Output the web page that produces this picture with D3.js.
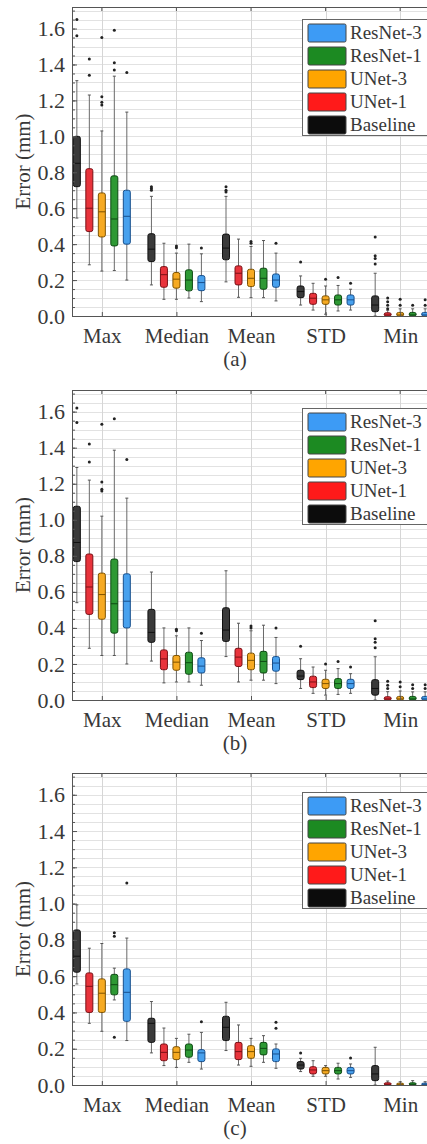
<!DOCTYPE html>
<html>
<head>
<meta charset="utf-8">
<script src="https://cdn.jsdelivr.net/npm/d3@7"></script>
<style>
  body { margin: 0; background: #fff; }
  svg { display: block; }
  svg text { font-family: "Liberation Serif", "Times New Roman", Tinos, "DejaVu Serif", serif !important; fill: #383838; }
</style>
</head>
<body>
<svg id="fig" width="427" height="1144"></svg>
<script>
const categories = ["Max", "Median", "Mean", "STD", "Min"];
const series = ["Baseline", "UNet-1", "UNet-3", "ResNet-1", "ResNet-3"];
const legendOrder = ["ResNet-3", "ResNet-1", "UNet-3", "UNet-1", "Baseline"];
const fills = ["#3a3a3a", "#e8333b", "#f6aa22", "#2e9934", "#48a1ee"];
const strokes = ["#111111", "#7a1015", "#7d5200", "#0e4a13", "#184f8c"];
const swatches = ["#0c0c0c", "#ff1a1a", "#ffa500", "#1c8a22", "#3d9bf5"];
const yTicks = [0, 0.2, 0.4, 0.6, 0.8, 1.0, 1.2, 1.4, 1.6];
const captions = ["(a)", "(b)", "(c)"];

// [category, series, lower whisker, q1, median, q3, upper whisker, outliers]
const statsA = [
  ["Max", "Baseline", 0.545, 0.72, 0.85, 1.0, 1.31, [1.56, 1.65]],
  ["Max", "UNet-1", 0.285, 0.47, 0.60, 0.82, 1.23, [1.34, 1.43]],
  ["Max", "UNet-3", 0.25, 0.44, 0.58, 0.685, 1.03, [1.175, 1.19, 1.22, 1.55]],
  ["Max", "ResNet-1", 0.253, 0.39, 0.54, 0.78, 1.335, [1.37, 1.41, 1.59]],
  ["Max", "ResNet-3", 0.20, 0.40, 0.555, 0.70, 1.135, [1.355]],
  ["Median", "Baseline", 0.173, 0.303, 0.372, 0.458, 0.666, [0.70, 0.71, 0.72]],
  ["Median", "UNet-1", 0.093, 0.16, 0.23, 0.275, 0.405, []],
  ["Median", "UNet-3", 0.093, 0.155, 0.205, 0.242, 0.35, [0.38, 0.39]],
  ["Median", "ResNet-1", 0.10, 0.14, 0.20, 0.257, 0.40, []],
  ["Median", "ResNet-3", 0.08, 0.141, 0.186, 0.225, 0.346, [0.378]],
  ["Mean", "Baseline", 0.19, 0.313, 0.378, 0.456, 0.666, [0.69, 0.70, 0.72]],
  ["Mean", "UNet-1", 0.104, 0.173, 0.238, 0.279, 0.428, []],
  ["Mean", "UNet-3", 0.102, 0.164, 0.21, 0.26, 0.387, [0.405, 0.415]],
  ["Mean", "ResNet-1", 0.102, 0.149, 0.21, 0.266, 0.42, []],
  ["Mean", "ResNet-3", 0.084, 0.16, 0.20, 0.234, 0.35, [0.405]],
  ["STD", "Baseline", 0.061, 0.102, 0.136, 0.167, 0.223, [0.30]],
  ["STD", "UNet-1", 0.033, 0.065, 0.099, 0.126, 0.182, []],
  ["STD", "UNet-3", 0.01, 0.065, 0.09, 0.112, 0.167, [0.205]],
  ["STD", "ResNet-1", 0.028, 0.061, 0.09, 0.117, 0.17, [0.214]],
  ["STD", "ResNet-3", 0.033, 0.061, 0.09, 0.117, 0.149, [0.182]],
  ["Min", "Baseline", 0.0, 0.024, 0.061, 0.112, 0.238, [0.29, 0.32, 0.335, 0.44]],
  ["Min", "UNet-1", 0.0, 0.0, 0.006, 0.018, 0.032, [0.04, 0.06, 0.08, 0.10]],
  ["Min", "UNet-3", 0.0, 0.0, 0.006, 0.02, 0.04, [0.06, 0.093]],
  ["Min", "ResNet-1", 0.0, 0.0, 0.006, 0.02, 0.04, [0.06]],
  ["Min", "ResNet-3", 0.0, 0.0, 0.006, 0.02, 0.04, [0.06, 0.09]]
];

const statsB = [
  ["Max", "Baseline", 0.54, 0.768, 0.874, 1.075, 1.29, [1.54, 1.62]],
  ["Max", "UNet-1", 0.287, 0.475, 0.627, 0.81, 1.22, [1.32, 1.42]],
  ["Max", "UNet-3", 0.247, 0.448, 0.585, 0.704, 1.02, [1.16, 1.17, 1.21, 1.53]],
  ["Max", "ResNet-1", 0.247, 0.371, 0.534, 0.782, 1.386, [1.56]],
  ["Max", "ResNet-3", 0.20, 0.40, 0.548, 0.70, 1.12, [1.335]],
  ["Median", "Baseline", 0.216, 0.32, 0.375, 0.503, 0.71, []],
  ["Median", "UNet-1", 0.095, 0.168, 0.228, 0.278, 0.40, []],
  ["Median", "UNet-3", 0.10, 0.165, 0.21, 0.247, 0.356, [0.384, 0.393]],
  ["Median", "ResNet-1", 0.10, 0.143, 0.207, 0.265, 0.40, []],
  ["Median", "ResNet-3", 0.082, 0.15, 0.188, 0.234, 0.33, [0.37]],
  ["Mean", "Baseline", 0.241, 0.325, 0.388, 0.512, 0.717, []],
  ["Mean", "UNet-1", 0.10, 0.186, 0.238, 0.287, 0.426, []],
  ["Mean", "UNet-3", 0.11, 0.168, 0.22, 0.26, 0.384, [0.40, 0.41]],
  ["Mean", "ResNet-1", 0.11, 0.15, 0.214, 0.27, 0.415, []],
  ["Mean", "ResNet-3", 0.091, 0.16, 0.205, 0.241, 0.347, [0.40]],
  ["STD", "Baseline", 0.064, 0.113, 0.133, 0.165, 0.229, [0.298]],
  ["STD", "UNet-1", 0.037, 0.069, 0.10, 0.132, 0.183, []],
  ["STD", "UNet-3", 0.027, 0.064, 0.091, 0.115, 0.165, [0.20]],
  ["STD", "ResNet-1", 0.031, 0.064, 0.091, 0.119, 0.174, [0.214]],
  ["STD", "ResNet-3", 0.037, 0.064, 0.091, 0.115, 0.146, [0.183]],
  ["Min", "Baseline", 0.0, 0.027, 0.064, 0.113, 0.24, [0.29, 0.32, 0.34, 0.44]],
  ["Min", "UNet-1", 0.0, 0.0, 0.006, 0.018, 0.046, [0.064, 0.082, 0.104]],
  ["Min", "UNet-3", 0.0, 0.0, 0.006, 0.02, 0.05, [0.073, 0.10]],
  ["Min", "ResNet-1", 0.0, 0.0, 0.006, 0.02, 0.045, [0.064, 0.085]],
  ["Min", "ResNet-3", 0.0, 0.0, 0.006, 0.02, 0.045, [0.064, 0.085]]
];

const statsC = [
  ["Max", "Baseline", 0.557, 0.622, 0.71, 0.855, 0.993, []],
  ["Max", "UNet-1", 0.34, 0.40, 0.544, 0.618, 0.754, []],
  ["Max", "UNet-3", 0.296, 0.40, 0.506, 0.585, 0.78, []],
  ["Max", "ResNet-1", 0.469, 0.497, 0.553, 0.61, 0.644, [0.263, 0.82, 0.84]],
  ["Max", "ResNet-3", 0.245, 0.351, 0.511, 0.64, 0.81, [1.114]],
  ["Median", "Baseline", 0.177, 0.235, 0.34, 0.368, 0.46, []],
  ["Median", "UNet-1", 0.107, 0.134, 0.18, 0.226, 0.314, []],
  ["Median", "UNet-3", 0.097, 0.14, 0.18, 0.211, 0.257, []],
  ["Median", "ResNet-1", 0.125, 0.153, 0.193, 0.226, 0.28, []],
  ["Median", "ResNet-3", 0.088, 0.129, 0.177, 0.195, 0.29, [0.349]],
  ["Mean", "Baseline", 0.19, 0.245, 0.318, 0.379, 0.456, []],
  ["Mean", "UNet-1", 0.11, 0.14, 0.184, 0.235, 0.331, []],
  ["Mean", "UNet-3", 0.103, 0.147, 0.184, 0.217, 0.257, []],
  ["Mean", "ResNet-1", 0.125, 0.166, 0.202, 0.235, 0.272, []],
  ["Mean", "ResNet-3", 0.092, 0.129, 0.171, 0.199, 0.226, [0.313, 0.346]],
  ["STD", "Baseline", 0.074, 0.088, 0.11, 0.129, 0.147, [0.177]],
  ["STD", "UNet-1", 0.048, 0.061, 0.083, 0.101, 0.134, []],
  ["STD", "UNet-3", 0.048, 0.061, 0.079, 0.097, 0.107, []],
  ["STD", "ResNet-1", 0.033, 0.061, 0.079, 0.097, 0.12, []],
  ["STD", "ResNet-3", 0.042, 0.061, 0.079, 0.097, 0.116, [0.149]],
  ["Min", "Baseline", 0.0, 0.024, 0.061, 0.107, 0.208, []],
  ["Min", "UNet-1", 0.0, 0.0, 0.004, 0.012, 0.022, []],
  ["Min", "UNet-3", 0.0, 0.0, 0.004, 0.01, 0.018, []],
  ["Min", "ResNet-1", 0.0, 0.0, 0.004, 0.012, 0.024, []],
  ["Min", "ResNet-3", 0.0, 0.0, 0.004, 0.01, 0.018, []]
];

const panels = [
  { stats: statsA, top: 7, bottom: 316, legendTop: 19 },
  { stats: statsB, top: 390, bottom: 700, legendTop: 408 },
  { stats: statsC, top: 773, bottom: 1085, legendTop: 792 }
];

const svg = d3.select("#fig");
const left = 72, right = 430;
const boxW = 7, capW = 3;
const serif = "'Liberation Serif', 'Times New Roman', Tinos, 'DejaVu Serif', serif";

const x = d3.scaleLinear().domain([0.6, 5.4]).range([left, right]);
const offset = d3.scalePoint().domain(series).range([-0.335, 0.335]);
const fillOf = d3.scaleOrdinal().domain(series).range(fills);
const strokeOf = d3.scaleOrdinal().domain(series).range(strokes);
const swatchOf = d3.scaleOrdinal().domain(series).range(swatches);
const catX = c => x(categories.indexOf(c) + 1);

panels.forEach((p, pi) => {
  const y = d3.scaleLinear().domain([0, 1.72]).range([p.bottom, p.top]);
  const g = svg.append("g").attr("font-family", serif);

  // grid
  const minor = d3.range(0, 1.72, 0.05);
  g.append("g").selectAll("line").data(minor).join("line")
    .attr("x1", left).attr("x2", right)
    .attr("y1", d => Math.round(y(d)) + 0.5).attr("y2", d => Math.round(y(d)) + 0.5)
    .attr("stroke", "#e2e2e2").attr("stroke-width", 1);
  g.append("g").selectAll("line").data(categories).join("line")
    .attr("x1", d => Math.round(catX(d)) + 0.5).attr("x2", d => Math.round(catX(d)) + 0.5)
    .attr("y1", p.top).attr("y2", p.bottom)
    .attr("stroke", "#d6d6d6").attr("stroke-width", 1);

  // boxes
  const items = g.append("g").selectAll("g").data(p.stats).join("g")
    .attr("transform", d => `translate(${x(categories.indexOf(d[0]) + 1 + offset(d[1]))},0)`);

  items.append("line")
    .attr("x1", 0).attr("x2", 0)
    .attr("y1", d => y(d[2])).attr("y2", d => y(d[6]))
    .attr("stroke", "#6a6a6a").attr("stroke-width", 1);
  items.append("line")
    .attr("x1", -capW / 2).attr("x2", capW / 2)
    .attr("y1", d => y(d[6])).attr("y2", d => y(d[6]))
    .attr("stroke", "#555").attr("stroke-width", 1);
  items.append("line")
    .attr("x1", -capW / 2).attr("x2", capW / 2)
    .attr("y1", d => y(d[2])).attr("y2", d => y(d[2]))
    .attr("stroke", "#555").attr("stroke-width", 1);
  items.append("rect")
    .attr("x", -boxW / 2).attr("width", boxW)
    .attr("y", d => y(d[5]))
    .attr("height", d => Math.max(y(d[3]) - y(d[5]), 1.5))
    .attr("rx", 2).attr("ry", 2)
    .attr("fill", d => fillOf(d[1]))
    .attr("stroke", d => strokeOf(d[1])).attr("stroke-width", 1);
  items.append("line")
    .attr("x1", -boxW / 2).attr("x2", boxW / 2)
    .attr("y1", d => y(d[4])).attr("y2", d => y(d[4]))
    .attr("stroke", d => strokeOf(d[1])).attr("stroke-width", 1);
  items.selectAll("circle").data(d => d[7]).join("circle")
    .attr("cx", 0).attr("cy", d => y(d)).attr("r", 1.5)
    .attr("fill", "#222");

  // axes
  const axisColor = "#555";
  const yAxis = g.append("g").attr("transform", `translate(${left},0)`)
    .call(d3.axisLeft(y).tickValues(yTicks).tickFormat(d3.format(".1f"))
      .tickSizeInner(-5).tickSizeOuter(0).tickPadding(7));
  const yMinor = g.append("g").attr("transform", `translate(${left},0)`)
    .call(d3.axisLeft(y).tickValues(minor).tickFormat("").tickSizeInner(-3).tickSizeOuter(0));
  yMinor.select(".domain").remove();
  [yAxis, yMinor].forEach(a => a.selectAll("line").attr("stroke", axisColor));
  yAxis.attr("font-family", serif);
  yAxis.select(".domain").attr("stroke", axisColor);
  yAxis.selectAll("text").style("font-size", "22px").style("font-family", serif)
    .attr("fill", "#383838");

  const xAxis = g.append("g").attr("transform", `translate(0,${p.bottom})`)
    .call(d3.axisBottom(x).tickValues([1, 2, 3, 4, 5]).tickFormat(d => categories[d - 1])
      .tickSizeInner(-4).tickSizeOuter(0).tickPadding(12));
  xAxis.attr("font-family", serif);
  xAxis.select(".domain").attr("stroke", axisColor);
  xAxis.selectAll("line").attr("stroke", axisColor);
  xAxis.selectAll("text").style("font-size", "21px").style("font-family", serif)
    .attr("fill", "#383838");

  // top border with inward ticks
  g.append("line").attr("x1", left).attr("x2", right)
    .attr("y1", p.top + 0.5).attr("y2", p.top + 0.5).attr("stroke", axisColor);
  g.append("g").selectAll("line").data([1, 2, 3, 4, 5]).join("line")
    .attr("x1", d => x(d)).attr("x2", d => x(d))
    .attr("y1", p.top).attr("y2", p.top + 4).attr("stroke", axisColor);

  // y label
  g.append("text")
    .attr("transform", `translate(30,${(p.top + p.bottom) / 2}) rotate(-90)`)
    .attr("text-anchor", "middle").style("font-size", "21px").style("font-family", serif)
    .text("Error (mm)");

  // caption
  g.append("text").attr("x", 235).attr("y", p.bottom + 50)
    .attr("text-anchor", "middle").style("font-size", "21px").style("font-family", serif)
    .text(captions[pi]);

  // legend
  const lg = g.append("g").attr("transform", `translate(302,${p.legendTop})`);
  lg.append("rect").attr("x", 0.5).attr("y", 0.5).attr("width", 140).attr("height", 116)
    .attr("fill", "#fff").attr("stroke", "#666").attr("stroke-width", 1);
  const rows = lg.selectAll("g.row").data(legendOrder).join("g")
    .attr("class", "row")
    .attr("transform", (d, i) => `translate(0,${5 + i * 23})`);
  rows.append("rect").attr("x", 6).attr("y", 0).attr("width", 38).attr("height", 18)
    .attr("rx", 1.5)
    .attr("fill", d => swatchOf(d)).attr("stroke", "#444").attr("stroke-width", 1);
  rows.append("text").attr("x", 48).attr("y", 15)
    .style("font-size", "19px").style("font-family", serif)
    .text(d => d);
});
</script>
</body>
</html>
